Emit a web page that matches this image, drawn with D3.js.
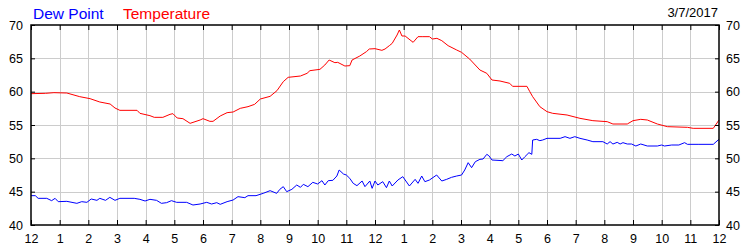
<!DOCTYPE html>
<html>
<head>
<meta charset="utf-8">
<script src="https://cdn.jsdelivr.net/npm/d3@7"></script>
<style>
  body { margin: 0; background: #fff; }
  svg { display: block; font-family: "Liberation Sans", Arial, sans-serif; }
</style>
</head>
<body>
<svg id="chart" width="750" height="250"></svg>
<script>
// hour labels along the bottom
var hourLabels = ["12","1","2","3","4","5","6","7","8","9","10","11","12","1","2","3","4","5","6","7","8","9","10","11","12"];
var yTicks = [40, 45, 50, 55, 60, 65, 70];

// temperature (hours since midnight, degF)
var tempHours = [0, 0.5, 0.8, 1.25, 1.7, 2.06, 2.4, 2.76, 2.93, 3.1, 3.7, 3.8, 4.15, 4.3, 4.6, 4.85, 4.95, 5.1, 5.3, 5.55, 5.9, 6.0, 6.24, 6.35, 6.6, 6.84, 7.05, 7.3, 7.57, 7.8,
  8.0, 8.34, 8.58, 8.8, 8.97, 9.4, 9.63, 9.73, 10.08, 10.25, 10.4, 10.6, 10.7, 10.95, 11.12, 11.2, 11.47, 11.7, 11.8, 12.0, 12.24, 12.35, 12.5, 12.6, 12.77, 12.85,
  12.94, 13.05, 13.33, 13.5, 13.67, 13.9, 14.0, 14.16, 14.33, 14.55, 14.85, 15.02, 15.3, 15.66, 15.9, 16.08, 16.36, 16.7, 16.8, 17.3, 17.4, 17.5, 17.75, 18.0,
  18.2, 18.7, 19.15, 19.6, 20.1, 20.3, 20.8, 21.0, 21.27, 21.5, 21.85, 22.2, 22.9, 23.1, 23.8, 24.0];
var tempValues = [59.7, 59.75, 59.85, 59.8, 59.25, 58.95, 58.45, 58.15, 57.55, 57.2, 57.2, 56.75, 56.4, 56.15, 56.15, 56.6, 56.7, 56.05, 55.95, 55.25, 55.75, 55.95, 55.55, 55.55, 56.35, 56.85, 56.95, 57.5, 57.75, 58.1,
  58.9, 59.3, 60.15, 61.5, 62.15, 62.35, 62.75, 63.15, 63.35, 64.0, 64.75, 64.35, 64.4, 63.85, 63.9, 64.75, 65.35, 66.0, 66.4, 66.45, 66.2, 66.4, 66.9, 67.25, 68.5, 69.25,
  68.35, 68.35, 67.4, 68.25, 68.25, 68.25, 67.9, 68.0, 67.65, 66.9, 66.25, 65.9, 64.9, 63.25, 62.75, 61.75, 61.6, 61.25, 60.8, 60.8, 60.0, 59.25, 57.75, 57.0,
  56.75, 56.5, 56.0, 55.65, 55.5, 55.15, 55.15, 55.65, 55.85, 55.75, 55.15, 54.75, 54.65, 54.5, 54.5, 55.75];

// dew point (hours since midnight, degF)
var dewHours = [0, 0.15, 0.25, 0.55, 0.72, 0.84, 0.95, 1.25, 1.6, 1.77, 1.95, 2.1, 2.3, 2.4, 2.6, 2.75, 2.93, 3.1, 3.6, 3.8, 3.98, 4.15, 4.38, 4.55, 4.73, 4.9, 5.08, 5.43, 5.65, 5.9,
  6.13, 6.3, 6.48, 6.6, 6.84, 7.05, 7.22, 7.46, 7.57, 7.85, 8.1, 8.34, 8.57, 8.68, 8.8, 8.92, 9.1, 9.27, 9.4, 9.5, 9.66, 9.83, 10.0, 10.15, 10.25, 10.37, 10.53,
  10.67, 10.75, 10.9, 11.0, 11.12, 11.24, 11.37, 11.55, 11.65, 11.82, 11.9, 12.0, 12.1, 12.27, 12.4, 12.5, 12.6, 12.8, 12.97, 13.2, 13.4, 13.5, 13.63, 13.74, 13.9,
  14.15, 14.33, 14.5, 14.67, 14.85, 15.02, 15.13, 15.25, 15.37, 15.5, 15.66, 15.77, 15.9, 15.97, 16.08, 16.46, 16.6, 16.77, 16.88, 17.0, 17.12, 17.23, 17.37, 17.47,
  17.5, 17.64, 17.75, 17.85, 18.0, 18.46, 18.63, 18.8, 18.97, 19.15, 19.4, 19.6, 19.95, 20.1, 20.2, 20.3, 20.45, 20.55, 20.65, 20.8, 20.95, 21.1, 21.27, 21.5,
  21.85, 22.0, 22.1, 22.35, 22.6, 22.8, 22.9, 23.3, 23.8, 23.97, 24.0];
var dewValues = [44.4, 44.4, 44.0, 44.0, 43.65, 44.0, 43.5, 43.55, 43.25, 43.5, 43.4, 43.9, 43.7, 44.0, 43.7, 44.15, 43.7, 44.0, 44.0, 43.85, 43.6, 43.85, 43.7, 43.25, 43.35, 43.65, 43.4, 43.4, 43.0, 43.15,
  43.4, 43.15, 43.35, 43.1, 43.5, 43.75, 44.25, 44.1, 44.4, 44.4, 44.75, 45.15, 44.75, 45.35, 45.75, 45.0, 45.35, 46.0, 45.65, 46.1, 45.75, 46.4, 46.15, 46.65, 46.0, 46.65, 46.7,
  47.35, 48.25, 47.65, 47.5, 47.0, 46.25, 45.9, 46.6, 45.75, 46.6, 45.5, 46.6, 46.0, 46.5, 45.6, 46.6, 45.85, 46.75, 47.25, 45.85, 46.85, 46.25, 47.35, 46.5, 46.75,
  47.5, 46.6, 46.85, 47.15, 47.35, 47.5, 48.25, 49.35, 48.6, 49.5, 49.85, 49.9, 50.6, 50.4, 49.75, 49.65, 50.25, 50.65, 50.35, 50.65, 49.75, 50.25, 50.85, 50.6,
  52.75, 52.85, 52.65, 52.75, 53.0, 53.0, 53.25, 53.0, 53.25, 53.0, 52.75, 52.5, 52.5, 52.15, 52.5, 52.15, 52.4, 52.15, 52.35, 52.15, 52.15, 51.85, 52.15, 51.85,
  51.85, 52.0, 51.85, 52.0, 52.0, 52.35, 52.1, 52.1, 52.1, 52.75, 52.85];

var svg = d3.select("#chart");
var margin = { left: 31, right: 31, top: 25, bottom: 25 };
var width = 750 - margin.left - margin.right;
var height = 250 - margin.top - margin.bottom;

var x = d3.scaleLinear().domain([0, 24]).range([margin.left, margin.left + width]);
var y = d3.scaleLinear().domain([40, 70]).range([margin.top + height, margin.top]);
var hours = d3.range(0, 25);

// grid lines
var grid = svg.append("g").attr("stroke", "#cccccc").attr("stroke-width", 1);
grid.selectAll(".vg").data(hours.slice(1, -1)).enter().append("line")
  .attr("x1", d => Math.round(x(d)) + 0.5).attr("x2", d => Math.round(x(d)) + 0.5)
  .attr("y1", y(70)).attr("y2", y(40));
grid.selectAll(".hg").data(yTicks.slice(1, -1)).enter().append("line")
  .attr("x1", x(0)).attr("x2", x(24))
  .attr("y1", d => Math.round(y(d)) + 0.5).attr("y2", d => Math.round(y(d)) + 0.5);

// series
var line = d3.line().x(d => x(d[0])).y(d => y(d[1]));
svg.append("path")
  .datum(d3.zip(tempHours, tempValues))
  .attr("fill", "none").attr("stroke", "#ff0000").attr("stroke-width", 1)
  .attr("d", line);
svg.append("path")
  .datum(d3.zip(dewHours, dewValues))
  .attr("fill", "none").attr("stroke", "#0000ff").attr("stroke-width", 1)
  .attr("d", line);

// frame
svg.append("rect")
  .attr("x", x(0)).attr("y", y(70))
  .attr("width", x(24) - x(0)).attr("height", y(40) - y(70))
  .attr("fill", "none").attr("stroke", "#000").attr("stroke-width", 1.5);

// axes with inward ticks
var bottomAxis = d3.axisBottom(x).tickValues(hours).tickSize(-5).tickPadding(9)
  .tickFormat((d, i) => hourLabels[i]);
var topAxis = d3.axisTop(x).tickValues(hours).tickSize(-5).tickFormat("");
var leftAxis = d3.axisLeft(y).tickValues(yTicks).tickSize(-4).tickPadding(8);
var rightAxis = d3.axisRight(y).tickValues(yTicks).tickSize(-4).tickPadding(7);

function styleAxis(g) {
  g.select(".domain").remove();
  g.selectAll(".tick line").attr("stroke", "#000");
  g.selectAll(".tick text").attr("fill", "#000").style("font-size", "12.5px")
    .style("font-family", "'Liberation Sans', Arial, sans-serif");
}
svg.append("g").attr("transform", "translate(0," + y(40) + ")").call(bottomAxis).call(styleAxis);
svg.append("g").attr("transform", "translate(0," + y(70) + ")").call(topAxis).call(styleAxis);
svg.append("g").attr("transform", "translate(" + x(0) + ",0)").call(leftAxis).call(styleAxis);
svg.append("g").attr("transform", "translate(" + x(24) + ",0)").call(rightAxis).call(styleAxis);

// legend and date
svg.append("text").attr("x", 33).attr("y", 19).attr("fill", "#0000ff")
  .style("font-size", "15.5px").text("Dew Point");
svg.append("text").attr("x", 123).attr("y", 19).attr("fill", "#ff0000")
  .style("font-size", "15.5px").text("Temperature");
svg.append("text").attr("x", 718).attr("y", 17).attr("text-anchor", "end").attr("fill", "#000")
  .style("font-size", "13px").text("3/7/2017");
</script>
</body>
</html>
